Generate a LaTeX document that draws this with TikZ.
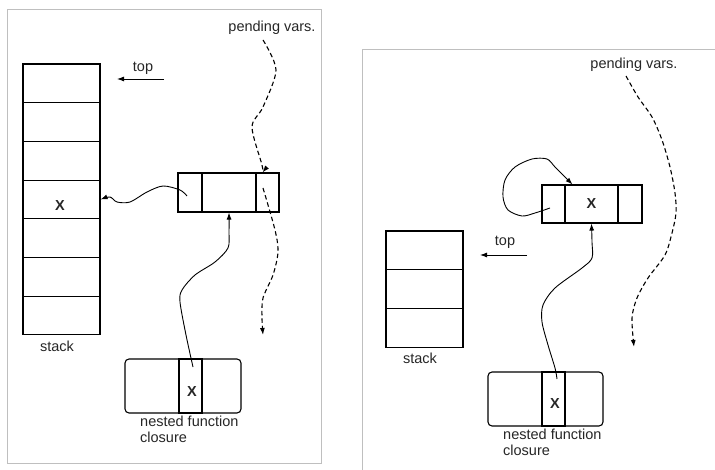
\documentclass[tikz,border=0pt]{standalone}
\usepackage{fontspec}
\setmainfont{Liberation Sans}
\usetikzlibrary{arrows.meta}
\begin{document}
\begin{tikzpicture}[x=1pt,y=-1pt,
  every node/.style={font=\fontsize{14.5}{16}\selectfont,text=black!85},
  cell/.style={draw,line width=1.1pt,inner sep=0pt,minimum width=#1,minimum height=38.7pt},
  clos/.style={draw,line width=1.1pt,rounded corners=4pt,inner sep=0pt,minimum width=#1,minimum height=54pt},
  xl/.style={font=\fontsize{14.5}{16}\selectfont\bfseries},
  frame/.style={draw=black!25,line width=.8pt},
  arr/.style={-{Latex[length=7pt,width=5pt]},line width=.9pt},
  dashy/.style={line width=1.1pt,dash pattern=on 4.5pt off 3pt}]
  \useasboundingbox (0,0) rectangle (715,470);
  \draw[frame] (7,9) rectangle (321,463);
  \draw[frame] (362,470) -- (362,49) -- (715,49);
  \foreach \i in {1,...,7}
    \node[cell=77pt] (sa\i) at (61.5,{64+38.7*(\i-.5)}) {};
  \node[xl] (sx) at (60,206) {X};
  \node (sta) at (57,346) {stack};
  \node (topa) at (143,68) {top};
  \coordinate (ta1) at (164,79);
  \coordinate (ta2) at (117,79);
  \draw[arr] (ta1) -- (ta2);
  \node[cell=24pt,minimum height=39pt] (ra1) at (190,192.5) {};
  \node[cell=54pt,minimum height=39pt] (ra2) at (229,192.5) {};
  \node[cell=23pt,minimum height=39pt] (ra3) at (267.5,192.5) {};
  \node[clos=116pt] (ca) at (183,386) {};
  \node[cell=23pt,minimum height=54pt] (cax) at (190.5,386) {};
  \node[xl] (cx) at (192,392) {X};
  \node[anchor=north west,align=left,inner sep=0pt] (nfa) at (140,416) {nested function\\closure};
  \node (pva) at (272,28) {pending vars.};
  \coordinate (wa) at (187,196);
  \draw[arr] plot[smooth] coordinates {(wa) (180,190) (163,186) (147,192) (130,202) (117,202) (110,197) (sa4.east)};
  \coordinate (pa1) at (263,40);
  \draw[arr,dashy] plot[smooth] coordinates {(pa1) (276,70) (263,107) (252,127) (262,165) ([xshift=-5pt]ra3.north)};
  \coordinate (pa3) at (263,188);
  \coordinate (pa4) at (263,335);
  \draw[arr,dashy] plot[smooth] coordinates {(pa3) (275,230) (278,252) (273,275) (263,298) (262,318) (pa4)};
  \coordinate (ga) at (193,367);
  \draw[arr] plot[smooth] coordinates {(ga) (186,335) (180,302) (182,290) (195,275) (215,262) (228,248) (229,232) (ra2.south)};
  \foreach \i in {1,2,3}
    \node[cell=77pt] (sb\i) at (424.5,{231+38.7*(\i-.5)}) {};
  \node (stb) at (420,358) {stack};
  \node (topb) at (505,242) {top};
  \coordinate (tb1) at (527,255);
  \coordinate (tb2) at (480,255);
  \draw[arr] (tb1) -- (tb2);
  \node[cell=23pt,minimum height=38pt] (rb1) at (553.5,204) {};
  \node[cell=53pt,minimum height=38pt,xl] (rb2) at (591.5,204) {X};
  \node[cell=24pt,minimum height=38pt] (rb3) at (630,204) {};
  \node[clos=115pt] (cb) at (545.5,399) {};
  \node[cell=23pt,minimum height=54pt] (cbx) at (553.5,399) {};
  \node[xl] (cy) at (555,404) {X};
  \node[anchor=north west,align=left,inner sep=0pt] (nfb) at (503,429) {nested function\\closure};
  \node (pvb) at (634,65) {pending vars.};
  \coordinate (wb) at (550,208);
  \draw[arr] plot[smooth] coordinates {(wb) (535,213) (522,216) (508,210) (503,197) (505,180) (515,167) (532,159) (547,159) (555,167) (565,177) ([xshift=-19pt]rb2.north)};
  \coordinate (pb1) at (626,76);
  \coordinate (pb2) at (634,347);
  \draw[arr,dashy] plot[smooth] coordinates {(pb1) (638,97) (652,117) (662,140) (670,167) (675,193) (676,213) (672,233) (665,255) (648,278) (637,298) (632,318) (pb2)};
  \coordinate (gb) at (557,379);
  \draw[arr] plot[smooth] coordinates {(gb) (555,368) (548,345) (542,322) (543,305) (555,288) (582,268) (592,258) (592,242) (rb2.south)};
\end{tikzpicture}
\end{document}
